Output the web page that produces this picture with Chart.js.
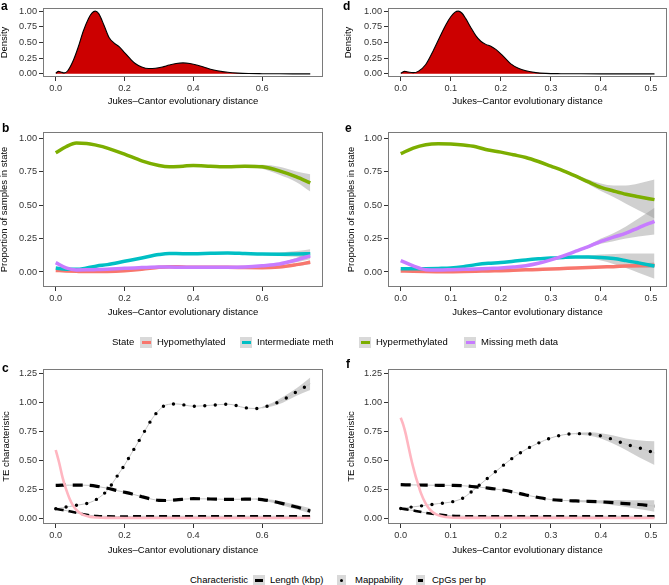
<!DOCTYPE html>
<html>
<head>
<meta charset="utf-8">
<script src="https://cdn.jsdelivr.net/npm/chart.js@4"></script>
<style>
  body { margin: 0; background: #fff; width: 669px; height: 585px; position: relative; overflow: hidden;
         font-family: 'Liberation Sans', Arial, sans-serif; }
  canvas { position: absolute; }
  .lab { position: absolute; font-weight: bold; font-size: 12px; line-height: 12px; }
  .lg { position: absolute; font-size: 9.5px; line-height: 12px; white-space: nowrap; color: #000; }
  .key { position: absolute; background: #d9d9d9; width: 12px; height: 11px; }
  .key i { position: absolute; left: 1.5px; right: 1.5px; top: 4px; height: 3px; }
</style>
</head>
<body>
<canvas id="pa" width="335" height="107" style="left:0;top:0"></canvas>
<canvas id="pd" width="334" height="107" style="left:335px;top:0"></canvas>
<canvas id="pb" width="335" height="213" style="left:0;top:107px"></canvas>
<canvas id="pe" width="334" height="213" style="left:335px;top:107px"></canvas>
<canvas id="pc" width="335" height="202" style="left:0;top:355px"></canvas>
<canvas id="pf" width="334" height="202" style="left:335px;top:355px"></canvas>

<div class="lab" style="left:1px;top:0">a</div>
<div class="lab" style="left:343px;top:0">d</div>
<div class="lab" style="left:2px;top:122px">b</div>
<div class="lab" style="left:345px;top:122px">e</div>
<div class="lab" style="left:2px;top:362px">c</div>
<div class="lab" style="left:346px;top:358px">f</div>

<!-- state legend -->
<div class="lg" style="left:112px;top:336px">State</div>
<div class="key" style="left:140px;top:336.5px"><i style="background:#F8766D"></i></div>
<div class="lg" style="left:157px;top:336px">Hypomethylated</div>
<div class="key" style="left:240px;top:336.5px"><i style="background:#00BFC4"></i></div>
<div class="lg" style="left:257px;top:336px">Intermediate meth</div>
<div class="key" style="left:359px;top:336.5px"><i style="background:#7CAE00"></i></div>
<div class="lg" style="left:376px;top:336px">Hypermethylated</div>
<div class="key" style="left:464px;top:336.5px"><i style="background:#C77CFF"></i></div>
<div class="lg" style="left:481px;top:336px">Missing meth data</div>

<!-- characteristic legend -->
<div class="lg" style="left:190px;top:574px">Characteristic</div>
<div class="key" style="left:253px;top:574.5px"><i style="background:#000;left:2px;right:2px"></i></div>
<div class="lg" style="left:270px;top:574px">Length (kbp)</div>
<div class="key" style="left:337px;top:574.5px;width:9px"><i style="background:#000;left:3px;right:3px;border-radius:2px"></i></div>
<div class="lg" style="left:355px;top:574px">Mappability</div>
<div class="key" style="left:416px;top:574.5px;width:9px"><i style="background:#000;left:2px;right:2px"></i></div>
<div class="lg" style="left:432px;top:574px">CpGs per bp</div>

<script>
// ---- data ----
const leftXTicks = [0, 0.2, 0.4, 0.6];
const rightXTicks = [0, 0.1, 0.2, 0.3, 0.4, 0.5];
const densTicks = [0, 0.25, 0.5, 0.75, 1];
const propTicks = [0, 0.25, 0.5, 0.75, 1];
const teTicks = [0, 0.25, 0.5, 0.75, 1, 1.25];

// a: density
const aX = [0, 0.008, 0.015, 0.025, 0.035, 0.05, 0.065, 0.08, 0.095, 0.105, 0.115, 0.125, 0.14, 0.155, 0.17, 0.185, 0.2, 0.215, 0.23, 0.25, 0.27, 0.29, 0.31, 0.33, 0.35, 0.37, 0.39, 0.41, 0.43, 0.45, 0.47, 0.5, 0.53, 0.56, 0.6, 0.65, 0.7, 0.74];
const aDensity = [0.01, 0.04, 0.03, 0.015, 0.05, 0.2, 0.42, 0.68, 0.88, 0.97, 1.0, 0.96, 0.78, 0.58, 0.49, 0.43, 0.34, 0.25, 0.17, 0.11, 0.085, 0.09, 0.11, 0.14, 0.165, 0.175, 0.165, 0.14, 0.11, 0.075, 0.05, 0.025, 0.012, 0.006, 0.003, 0.001, 0.0005, 0];

// d: density
const dX = [0, 0.008, 0.015, 0.025, 0.035, 0.05, 0.065, 0.08, 0.09, 0.1, 0.108, 0.115, 0.122, 0.13, 0.14, 0.15, 0.16, 0.17, 0.18, 0.19, 0.2, 0.21, 0.22, 0.235, 0.25, 0.27, 0.29, 0.32, 0.36, 0.4, 0.45, 0.507];
const dDensity = [0.01, 0.04, 0.03, 0.02, 0.04, 0.15, 0.37, 0.62, 0.78, 0.91, 0.98, 1.0, 0.97, 0.88, 0.74, 0.61, 0.52, 0.47, 0.44, 0.39, 0.32, 0.24, 0.16, 0.09, 0.05, 0.02, 0.008, 0.003, 0.001, 0.0005, 0.0002, 0];

// b: proportion of samples in state
const bX = [0, 0.03, 0.06, 0.09, 0.12, 0.15, 0.2, 0.25, 0.3, 0.33, 0.37, 0.4, 0.45, 0.5, 0.55, 0.6, 0.65, 0.7, 0.74];
const bHyper = [0.89, 0.935, 0.962, 0.96, 0.945, 0.925, 0.88, 0.83, 0.795, 0.785, 0.79, 0.795, 0.79, 0.785, 0.79, 0.785, 0.755, 0.71, 0.665];
const bInter = [0.03, 0.02, 0.02, 0.03, 0.045, 0.055, 0.08, 0.105, 0.13, 0.138, 0.137, 0.137, 0.14, 0.142, 0.138, 0.134, 0.133, 0.135, 0.137];
const bMissing = [0.07, 0.03, 0.015, 0.016, 0.018, 0.02, 0.028, 0.033, 0.037, 0.037, 0.035, 0.035, 0.035, 0.035, 0.038, 0.047, 0.06, 0.09, 0.12];
const bHypo = [0.012, 0.008, 0.005, 0.003, 0.003, 0.004, 0.01, 0.02, 0.035, 0.04, 0.037, 0.035, 0.035, 0.035, 0.033, 0.032, 0.038, 0.055, 0.072];
const bHyperRibX = [0.5, 0.55, 0.6, 0.65, 0.7, 0.74];
const bHyperLo = [0.78, 0.78, 0.77, 0.725, 0.67, 0.60];
const bHyperHi = [0.79, 0.80, 0.80, 0.785, 0.75, 0.73];
const bInterRibX = [0.55, 0.6, 0.65, 0.7, 0.74];
const bInterLo = [0.134, 0.126, 0.12, 0.113, 0.105];
const bInterHi = [0.142, 0.142, 0.146, 0.156, 0.17];
const bMissRibX = [0.6, 0.65, 0.7, 0.74];
const bMissLo = [0.043, 0.052, 0.073, 0.095];
const bMissHi = [0.051, 0.068, 0.107, 0.145];
const bHypoRibX = [0.6, 0.65, 0.7, 0.74];
const bHypoLo = [0.028, 0.032, 0.045, 0.058];
const bHypoHi = [0.036, 0.044, 0.065, 0.086];

// e: proportion of samples in state
const eX = [0, 0.025, 0.05, 0.075, 0.1, 0.125, 0.15, 0.175, 0.2, 0.225, 0.25, 0.275, 0.3, 0.325, 0.35, 0.375, 0.4, 0.425, 0.45, 0.475, 0.507];
const eHyper = [0.883, 0.925, 0.95, 0.957, 0.955, 0.948, 0.935, 0.91, 0.895, 0.875, 0.855, 0.825, 0.79, 0.755, 0.715, 0.672, 0.632, 0.605, 0.58, 0.562, 0.54];
const eMissing = [0.085, 0.045, 0.017, 0.015, 0.017, 0.02, 0.023, 0.027, 0.03, 0.037, 0.047, 0.065, 0.09, 0.12, 0.155, 0.19, 0.229, 0.26, 0.29, 0.33, 0.378];
const eInter = [0.025, 0.024, 0.025, 0.027, 0.03, 0.04, 0.055, 0.065, 0.07, 0.08, 0.09, 0.098, 0.104, 0.109, 0.112, 0.112, 0.108, 0.1, 0.085, 0.068, 0.045];
const eHypo = [0.008, 0.005, 0.003, 0.002, 0.002, 0.003, 0.005, 0.008, 0.01, 0.013, 0.016, 0.019, 0.022, 0.026, 0.03, 0.033, 0.037, 0.04, 0.044, 0.047, 0.05];
const eHyperRibX = [0.325, 0.35, 0.375, 0.4, 0.425, 0.45, 0.475, 0.507];
const eHyperLo = [0.75, 0.705, 0.655, 0.605, 0.56, 0.51, 0.46, 0.40];
const eHyperHi = [0.76, 0.725, 0.69, 0.66, 0.645, 0.645, 0.66, 0.69];
const eMissRibX = [0.35, 0.375, 0.4, 0.425, 0.45, 0.475, 0.507];
const eMissLo = [0.15, 0.18, 0.21, 0.23, 0.25, 0.265, 0.28];
const eMissHi = [0.16, 0.2, 0.25, 0.29, 0.34, 0.4, 0.48];
const eInterRibX = [0.35, 0.375, 0.4, 0.425, 0.45, 0.475, 0.507];
const eInterLo = [0.107, 0.1, 0.085, 0.06, 0.03, -0.005, -0.05];
const eInterHi = [0.117, 0.124, 0.13, 0.135, 0.138, 0.138, 0.138];
const eHypoRibX = [0.4, 0.45, 0.507];
const eHypoLo = [0.03, 0.035, 0.03];
const eHypoHi = [0.044, 0.055, 0.07];

// c: TE characteristics
const cX = [0, 0.02, 0.04, 0.06, 0.08, 0.1, 0.12, 0.15, 0.18, 0.2, 0.22, 0.25, 0.28, 0.3, 0.32, 0.35, 0.4, 0.45, 0.5, 0.55, 0.58, 0.6, 0.63, 0.66, 0.7, 0.74];
const cMap = [0.08, 0.09, 0.1, 0.11, 0.12, 0.135, 0.165, 0.24, 0.37, 0.46, 0.56, 0.71, 0.86, 0.935, 0.98, 0.99, 0.97, 0.978, 0.988, 0.957, 0.95, 0.958, 0.985, 1.025, 1.095, 1.165];
const cLength = [0.283, 0.285, 0.285, 0.285, 0.285, 0.283, 0.275, 0.258, 0.237, 0.224, 0.21, 0.185, 0.163, 0.153, 0.152, 0.158, 0.168, 0.165, 0.162, 0.163, 0.165, 0.16, 0.145, 0.125, 0.095, 0.06];
const cCpG = [0.08, 0.07, 0.058, 0.045, 0.033, 0.023, 0.017, 0.014, 0.013, 0.013, 0.014, 0.015, 0.015, 0.015, 0.015, 0.015, 0.015, 0.015, 0.015, 0.015, 0.015, 0.015, 0.015, 0.015, 0.015, 0.015];
const cPinkX = [0, 0.01, 0.02, 0.03, 0.04, 0.05, 0.06, 0.07, 0.08, 0.1, 0.12, 0.15, 0.2, 0.74];
const cPink = [0.59, 0.48, 0.35, 0.25, 0.17, 0.11, 0.07, 0.045, 0.027, 0.01, 0.004, 0.001, 0, 0];
const cMapRibX = [0.6, 0.63, 0.66, 0.7, 0.74];
const cMapLo = [0.95, 0.97, 1.0, 1.06, 1.11];
const cMapHi = [0.966, 1.0, 1.05, 1.125, 1.22];
const cLenRibX = [0.58, 0.6, 0.63, 0.66, 0.7, 0.74];
const cLenLo = [0.16, 0.152, 0.132, 0.108, 0.075, 0.04];
const cLenHi = [0.17, 0.168, 0.158, 0.142, 0.115, 0.085];

// f: TE characteristics
const fX = [0, 0.025, 0.05, 0.075, 0.1, 0.125, 0.15, 0.175, 0.2, 0.225, 0.25, 0.275, 0.3, 0.325, 0.35, 0.375, 0.4, 0.425, 0.45, 0.475, 0.507];
const fMap = [0.083, 0.097, 0.11, 0.125, 0.138, 0.175, 0.26, 0.35, 0.44, 0.525, 0.595, 0.65, 0.695, 0.722, 0.732, 0.73, 0.712, 0.68, 0.64, 0.61, 0.565];
const fLength = [0.289, 0.287, 0.285, 0.284, 0.283, 0.28, 0.27, 0.26, 0.245, 0.225, 0.2, 0.178, 0.16, 0.152, 0.148, 0.145, 0.14, 0.133, 0.125, 0.117, 0.103];
const fCpG = [0.083, 0.065, 0.045, 0.03, 0.02, 0.016, 0.015, 0.015, 0.015, 0.015, 0.015, 0.015, 0.015, 0.015, 0.015, 0.015, 0.015, 0.015, 0.015, 0.015, 0.015];
const fPinkX = [0, 0.005, 0.01, 0.015, 0.02, 0.025, 0.03, 0.035, 0.04, 0.05, 0.06, 0.07, 0.08, 0.1, 0.13, 0.507];
const fPink = [0.87, 0.81, 0.73, 0.63, 0.53, 0.44, 0.36, 0.29, 0.22, 0.125, 0.065, 0.033, 0.017, 0.004, 0.001, 0];
const fMapRibX = [0.35, 0.375, 0.4, 0.425, 0.45, 0.475, 0.507];
const fMapLo = [0.725, 0.715, 0.69, 0.645, 0.59, 0.53, 0.46];
const fMapHi = [0.739, 0.745, 0.735, 0.715, 0.69, 0.675, 0.665];
const fLenRibX = [0.35, 0.375, 0.4, 0.425, 0.45, 0.475, 0.507];
const fLenLo = [0.142, 0.135, 0.125, 0.11, 0.095, 0.078, 0.055];
const fLenHi = [0.154, 0.155, 0.155, 0.156, 0.155, 0.155, 0.155];

// ---- helpers ----
const FONT = "'Liberation Sans', Arial, sans-serif";
const RIB = 'rgba(150,150,150,0.45)';
const pts = (xs, ys) => xs.map((x, i) => ({ x: x, y: ys[i] }));

function line(xs, ys, color, width, dash, extra) {
  return Object.assign({
    data: pts(xs, ys), borderColor: color, borderWidth: width, borderDash: dash || [],
    pointRadius: 0, fill: false, cubicInterpolationMode: 'monotone', order: 0
  }, extra || {});
}
// two datasets: lower edge, then upper edge filled down to it
function ribbon(xs, lo, hi) {
  return [
    { data: pts(xs, lo), borderWidth: 0, pointRadius: 0, fill: false, cubicInterpolationMode: 'monotone', order: 5 },
    { data: pts(xs, hi), borderWidth: 0, pointRadius: 0, fill: '-1', backgroundColor: RIB, cubicInterpolationMode: 'monotone', order: 5 }
  ];
}

const boxPlugin = {
  id: 'panelBox',
  afterDraw(chart) {
    const a = chart.chartArea, ctx = chart.ctx;
    ctx.save();
    ctx.strokeStyle = '#7a7a7a';
    ctx.lineWidth = 1;
    ctx.strokeRect(Math.round(a.left) + 0.5, Math.round(a.top) + 0.5, Math.round(a.right - a.left) - 1, Math.round(a.bottom - a.top) - 1);
    ctx.restore();
  }
};

function panel(id, box, area, xr, yr, xTicks, yTicks, xDig, yTitle, yPad, xPad, datasets) {
  const tickFont = { family: FONT, size: 9.2 };
  const titleFont = { family: FONT, size: 9.5, lineHeight: 1 };
  return new Chart(document.getElementById(id), {
    type: 'line',
    data: { datasets: datasets },
    plugins: [boxPlugin],
    options: {
      responsive: false, animation: false, events: [],
      layout: { padding: { top: area.t - box.t, right: box.l + box.w - area.r, left: 0, bottom: 0 } },
      plugins: { legend: { display: false }, tooltip: { enabled: false } },
      scales: {
        x: {
          type: 'linear', min: xr[0], max: xr[1],
          afterFit: s => { s.height = box.t + box.h - area.b; },
          afterBuildTicks: s => { s.ticks = xTicks.map(v => ({ value: v })); },
          ticks: { callback: v => v.toFixed(xDig), font: tickFont, color: '#333', padding: 2, maxRotation: 0, autoSkip: false },
          grid: { display: true, drawOnChartArea: false, drawTicks: true, tickLength: 4, color: '#333' },
          border: { display: false },
          title: { display: true, text: 'Jukes\u2013Cantor evolutionary distance', font: titleFont, color: '#000', padding: { top: 0, bottom: xPad } }
        },
        y: {
          type: 'linear', min: yr[0], max: yr[1],
          afterFit: s => { s.width = area.l - box.l; },
          afterBuildTicks: s => { s.ticks = yTicks.map(v => ({ value: v })); },
          ticks: { callback: v => v.toFixed(2), font: tickFont, color: '#333', padding: 2, autoSkip: false },
          grid: { display: true, drawOnChartArea: false, drawTicks: true, tickLength: 4, color: '#333' },
          border: { display: false },
          title: { display: true, text: yTitle, font: titleFont, color: '#000', padding: { top: yPad, bottom: 0 } }
        }
      }
    }
  });
}

const C_HYPO = '#F8766D', C_INTER = '#00BFC4', C_HYPER = '#7CAE00', C_MISS = '#C77CFF';
const PINK = '#FFB6C1';
const LW = 3.5;

function density(xs, ys) {
  return [{ data: pts(xs, ys), borderColor: '#000', borderWidth: 1.1, backgroundColor: '#CC0000',
            fill: 'origin', pointRadius: 0, cubicInterpolationMode: 'monotone' }];
}

function teSets(xs, map, len, cpg, pinkX, pink, ribs) {
  return [
    line(pinkX, pink, PINK, 2.6, []),
    line(xs, map, '#000', 3.4, [0, 10.5], { borderCapStyle: 'round', order: 1 }),
    line(xs, len, '#000', 3.2, [10, 7], { order: 1 }),
    line(xs, cpg, '#000', 2.6, [8, 5], { order: 1 }),
    line(xs, map, '#c4c4c4', 1, [], { order: 3 }),
    line(xs, len, '#c4c4c4', 1, [], { order: 3 }),
    line(xs, cpg, '#c4c4c4', 1, [], { order: 3 })
  ].concat(ribs);
}

const LEFT_X = [-0.037, 0.777];
const RIGHT_X = [-0.0254, 0.532];

panel('pa', { l: 0, t: 0, w: 335, h: 107 }, { l: 43, t: 8, r: 323, b: 77 }, LEFT_X, [-0.05, 1.05],
  leftXTicks, densTicks, 1, 'Density', 0, 1, density(aX, aDensity));
panel('pd', { l: 335, t: 0, w: 334, h: 107 }, { l: 388, t: 8, r: 667, b: 77 }, RIGHT_X, [-0.05, 1.05],
  rightXTicks, densTicks, 1, 'Density', 9, 1, density(dX, dDensity));

panel('pb', { l: 0, t: 107, w: 335, h: 213 }, { l: 43, t: 132, r: 323, b: 287 }, LEFT_X, [-0.112, 1.045],
  leftXTicks, propTicks, 1, 'Proportion of samples in state', 0, 3,
  [line(bX, bHyper, C_HYPER, LW), line(bX, bMissing, C_MISS, LW), line(bX, bInter, C_INTER, LW), line(bX, bHypo, C_HYPO, LW)]
    .concat(ribbon(bHyperRibX, bHyperLo, bHyperHi), ribbon(bInterRibX, bInterLo, bInterHi),
            ribbon(bMissRibX, bMissLo, bMissHi), ribbon(bHypoRibX, bHypoLo, bHypoHi)));
panel('pe', { l: 335, t: 107, w: 334, h: 213 }, { l: 388, t: 132, r: 667, b: 287 }, RIGHT_X, [-0.112, 1.045],
  rightXTicks, propTicks, 1, 'Proportion of samples in state', 12, 3,
  [line(eX, eHyper, C_HYPER, LW), line(eX, eMissing, C_MISS, LW), line(eX, eInter, C_INTER, LW), line(eX, eHypo, C_HYPO, LW)]
    .concat(ribbon(eHyperRibX, eHyperLo, eHyperHi), ribbon(eMissRibX, eMissLo, eMissHi),
            ribbon(eInterRibX, eInterLo, eInterHi), ribbon(eHypoRibX, eHypoLo, eHypoHi)));

panel('pc', { l: 0, t: 355, w: 335, h: 202 }, { l: 43, t: 369, r: 323, b: 524 }, LEFT_X, [-0.052, 1.293],
  leftXTicks, teTicks, 1, 'TE characteristic', 1.5, 2,
  teSets(cX, cMap, cLength, cCpG, cPinkX, cPink, ribbon(cMapRibX, cMapLo, cMapHi).concat(ribbon(cLenRibX, cLenLo, cLenHi))));
panel('pf', { l: 335, t: 355, w: 334, h: 202 }, { l: 388, t: 369, r: 667, b: 524 }, RIGHT_X, [-0.052, 1.293],
  rightXTicks, teTicks, 1, 'TE characteristic', 12, 2,
  teSets(fX, fMap, fLength, fCpG, fPinkX, fPink, ribbon(fMapRibX, fMapLo, fMapHi).concat(ribbon(fLenRibX, fLenLo, fLenHi))));
</script>
</body>
</html>
